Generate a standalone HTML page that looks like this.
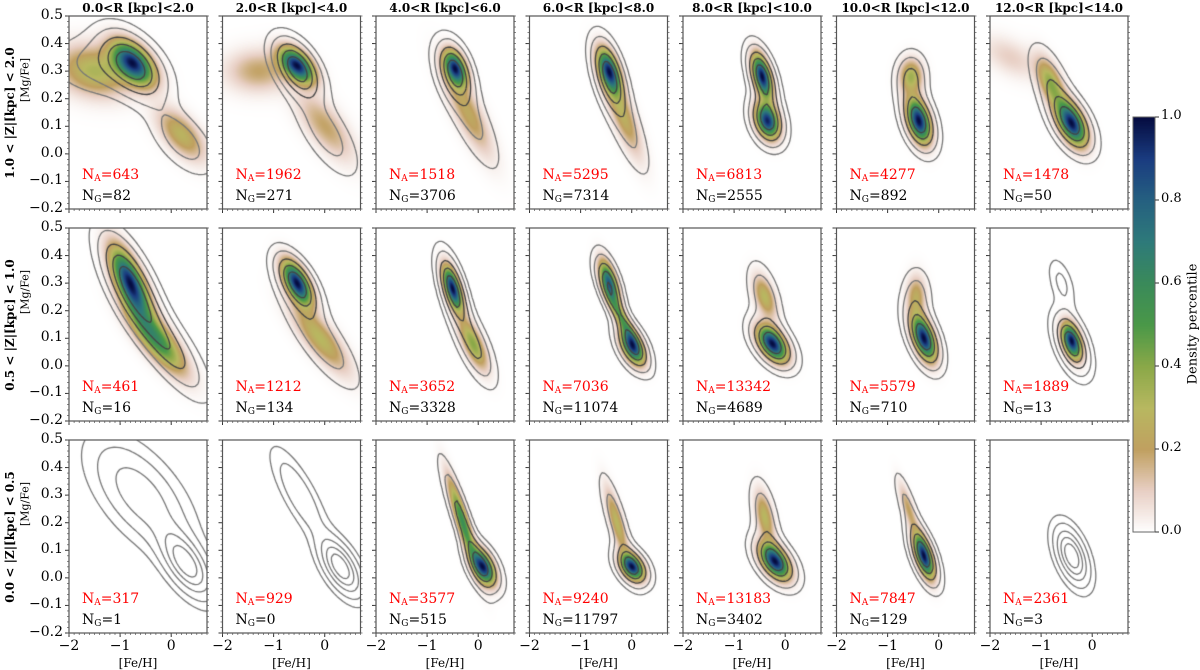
<!DOCTYPE html>
<html><head><meta charset="utf-8"><style>
body{margin:0;background:#fff;width:1200px;height:666px;overflow:hidden;position:relative;font-family:"DejaVu Serif","Liberation Serif",serif}
.abs{position:absolute}
.tl{font-size:14px;color:#000;white-space:nowrap}
.cbl{font-size:13px;color:#000;white-space:nowrap}
.title{font-size:12px;font-weight:bold;white-space:nowrap;text-align:center;width:160px}
.na{font-size:14px;color:#f00;white-space:nowrap}
.ng{font-size:14px;color:#000;white-space:nowrap}
sub{font-size:9px;vertical-align:-2px}
</style></head><body>
<div id="root"></div>
<script>
// ---- data ----
const colTitles=["0.0<R [kpc]<2.0","2.0<R [kpc]<4.0","4.0<R [kpc]<6.0","6.0<R [kpc]<8.0","8.0<R [kpc]<10.0","10.0<R [kpc]<12.0","12.0<R [kpc]<14.0"];
const rowTitles=["1.0 < |Z|[kpc] < 2.0","0.5 < |Z|[kpc] < 1.0","0.0 < |Z|[kpc] < 0.5"];
const nA=[[643,1962,1518,5295,6813,4277,1478],[461,1212,3652,7036,13342,5579,1889],[317,929,3577,9240,13183,7847,2361]];
const nG=[[82,271,3706,7314,2555,892,50],[16,134,3328,11074,4689,710,13],[1,0,515,11797,3402,129,3]];
const yTicks=[-0.2,-0.1,0.0,0.1,0.2,0.3,0.4,0.5];
const xTicks=[-2,-1,0];
const cbTicks=[0.0,0.2,0.4,0.6,0.8,1.0];
// density components: [feh, mgfe, sx, sy, rho, weight]
const dens=[
[[[-0.75,0.33,0.22,0.05,-0.5,1],[-1.5,0.3,0.4,0.06,-0.2,0.35],[0.2,0.07,0.25,0.06,-0.6,0.3]],
 [[-0.55,0.32,0.18,0.04,-0.5,1],[-1.3,0.3,0.35,0.05,0,0.2],[0,0.1,0.3,0.08,-0.7,0.2]],
 [[-0.45,0.31,0.12,0.04,-0.4,1],[-0.2,0.15,0.25,0.1,-0.8,0.25]],
 [[-0.45,0.3,0.12,0.05,-0.5,1],[-0.2,0.15,0.2,0.1,-0.8,0.3]],
 [[-0.45,0.28,0.1,0.05,-0.5,1],[-0.35,0.12,0.12,0.04,-0.3,0.95]],
 [[-0.4,0.12,0.12,0.05,-0.4,1],[-0.55,0.28,0.12,0.04,0,0.35]],
 [[-0.4,0.11,0.15,0.05,-0.5,1],[-0.8,0.25,0.15,0.06,-0.6,0.4],[-1.6,0.35,0.3,0.05,-0.5,0.1]]],
[[[-0.8,0.3,0.2,0.08,-0.7,1],[-0.3,0.1,0.3,0.08,-0.8,0.6]],
 [[-0.55,0.3,0.15,0.05,-0.6,1],[-0.1,0.1,0.3,0.08,-0.8,0.3]],
 [[-0.5,0.28,0.1,0.05,-0.6,1],[-0.1,0.08,0.15,0.06,-0.7,0.4]],
 [[-0.45,0.3,0.1,0.05,-0.6,0.9],[0,0.07,0.12,0.04,-0.5,1],[-0.2,0.17,0.15,0.06,-0.9,0.5]],
 [[-0.25,0.08,0.15,0.04,-0.5,1],[-0.4,0.25,0.12,0.05,-0.5,0.3]],
 [[-0.3,0.1,0.12,0.05,-0.5,1],[-0.45,0.25,0.1,0.05,0,0.25]],
 [[-0.4,0.09,0.1,0.04,-0.4,1]]],
[[],
 [],
 [[0.1,0.04,0.12,0.04,-0.5,1],[-0.3,0.2,0.15,0.1,-0.9,0.6]],
 [[0,0.04,0.12,0.03,-0.4,1],[-0.3,0.2,0.12,0.08,-0.8,0.3]],
 [[-0.2,0.06,0.15,0.04,-0.5,1],[-0.4,0.22,0.1,0.06,-0.5,0.3]],
 [[-0.3,0.08,0.1,0.05,-0.6,1],[-0.6,0.25,0.1,0.06,-0.8,0.2]],
 []]];
// contour components for gray contours
const cont=[
[[[-0.75,0.32,0.3,0.07,-0.5,1],[-1.4,0.32,0.45,0.06,-0.2,0.3],[0.2,0.05,0.3,0.07,-0.6,0.35]],
 [[-0.55,0.31,0.22,0.06,-0.5,1],[0,0.08,0.3,0.09,-0.7,0.3]],
 [[-0.45,0.3,0.16,0.06,-0.4,1],[-0.2,0.15,0.3,0.12,-0.8,0.3]],
 [[-0.45,0.29,0.15,0.07,-0.5,1],[-0.2,0.14,0.25,0.12,-0.8,0.35]],
 [[-0.45,0.28,0.14,0.06,-0.5,1],[-0.35,0.12,0.16,0.05,-0.3,0.95]],
 [[-0.4,0.12,0.16,0.06,-0.4,1],[-0.55,0.28,0.15,0.05,0,0.45]],
 [[-0.4,0.11,0.2,0.06,-0.5,1],[-0.8,0.25,0.2,0.08,-0.6,0.4]]],
[[[-0.8,0.3,0.28,0.1,-0.7,1],[-0.1,0.08,0.35,0.1,-0.8,0.6]],
 [[-0.55,0.3,0.2,0.06,-0.6,1],[-0.1,0.1,0.35,0.1,-0.8,0.35]],
 [[-0.5,0.28,0.14,0.07,-0.6,1],[-0.1,0.08,0.2,0.08,-0.7,0.5]],
 [[-0.45,0.3,0.13,0.06,-0.6,0.9],[0,0.07,0.16,0.05,-0.5,1],[-0.2,0.17,0.2,0.08,-0.9,0.5]],
 [[-0.25,0.08,0.2,0.05,-0.5,1],[-0.4,0.25,0.16,0.07,-0.5,0.35]],
 [[-0.3,0.1,0.16,0.06,-0.5,1],[-0.45,0.25,0.14,0.06,0,0.3]],
 [[-0.4,0.08,0.16,0.06,-0.5,1],[-0.6,0.3,0.12,0.05,-0.5,0.25]]],
[[[0.3,0.05,0.25,0.07,-0.6,1],[-0.6,0.3,0.45,0.11,-0.6,0.6]],
 [[0.3,0.04,0.2,0.06,-0.6,1],[-0.5,0.3,0.25,0.09,-0.8,0.4]],
 [[0.1,0.04,0.16,0.05,-0.5,1],[-0.3,0.2,0.2,0.12,-0.9,0.6]],
 [[0,0.04,0.16,0.04,-0.4,1],[-0.3,0.2,0.16,0.1,-0.8,0.35]],
 [[-0.2,0.06,0.2,0.05,-0.5,1],[-0.4,0.22,0.14,0.08,-0.5,0.35]],
 [[-0.3,0.08,0.14,0.06,-0.6,1],[-0.6,0.25,0.14,0.08,-0.8,0.25]],
 [[-0.4,0.08,0.16,0.06,-0.5,1]]]];
const cmapStops=[[0,[255,255,255]],[0.1,[232,207,196]],[0.2,[192,160,96]],[0.3,[184,184,96]],[0.4,[138,168,72]],[0.5,[74,152,72]],[0.6,[58,138,90]],[0.7,[46,122,122]],[0.8,[37,96,128]],[0.9,[26,60,128]],[1,[5,12,64]]];
const contourLevels=[0.08,0.2,0.4,0.6,0.8];
// ---- layout ----
const PL=69,PSTEP=153.5,PW=138,PT=[16,228,440],PH=193,XMIN=-2,XMAX=0.7,YMIN=-0.2,YMAX=0.5;
const DSX=1.2,CSX=1.3,CSY=1.1;
const root=document.getElementById('root');
function sx(v,i){return PL+i*PSTEP+(v-XMIN)/(XMAX-XMIN)*PW;}
function sy(v,r){return PT[r]+(YMAX-v)/(YMAX-YMIN)*PH;}
function esc(s){return s.replace(/&/g,'&amp;').replace(/</g,'&lt;').replace(/>/g,'&gt;');}
function cmap(t){t=Math.max(0,Math.min(1,t));for(let k=1;k<cmapStops.length;k++){if(t<=cmapStops[k][0]){const a=cmapStops[k-1],b=cmapStops[k];const f=(t-a[0])/(b[0]-a[0]);return a[1].map((c,j)=>Math.round(c+(b[1][j]-c)*f));}}return cmapStops[cmapStops.length-1][1];}
function field(comps,x,y,kx,ky){let s=0;for(const c of comps){const dx=(x-c[0])/(c[2]*kx),dy=(y-c[1])/(c[3]*ky),r=c[4];const q=(dx*dx-2*r*dx*dy+dy*dy)/(1-r*r);s+=c[5]*Math.exp(-0.5*q);}return s;}
function div(cls,name,x,y,html){const d=document.createElement('div');d.className='abs '+cls;d.style.left=x+'px';d.style.top=y+'px';d.innerHTML=html;
root.appendChild(d);return d;}
const svgNS='http://www.w3.org/2000/svg';
const svg=document.createElementNS(svgNS,'svg');svg.setAttribute('width',1200);svg.setAttribute('height',666);svg.style.position='absolute';svg.style.left='0';svg.style.top='0';


function line(x1,y1,x2,y2,st,w,name){const l=document.createElementNS(svgNS,'line');l.setAttribute('x1',x1);l.setAttribute('y1',y1);l.setAttribute('x2',x2);l.setAttribute('y2',y2);l.setAttribute('stroke',st);l.setAttribute('stroke-width',w);


svg.appendChild(l);}
for(let r=0;r<3;r++)for(let i=0;i<7;i++){
  const x0=PL+i*PSTEP,y0=PT[r];
  const cv=document.createElement('canvas');cv.width=PW;cv.height=PH;cv.style.position='absolute';cv.style.left=x0+'px';cv.style.top=y0+'px';
  
  
  root.appendChild(cv);const ctx=cv.getContext('2d');
  const dc=dens[r][i];
  if(dc.length){const img=ctx.createImageData(PW,PH);let mx=0;const F=new Float32Array(PW*PH);
    for(let py=0;py<PH;py++)for(let px=0;px<PW;px++){const x=XMIN+(px+0.5)/PW*(XMAX-XMIN),y=YMAX-(py+0.5)/PH*(YMAX-YMIN);const v=field(dc,x,y,DSX,1);F[py*PW+px]=v;if(v>mx)mx=v;}
    for(let k=0;k<PW*PH;k++){const c=cmap(F[k]/mx);img.data[4*k]=c[0];img.data[4*k+1]=c[1];img.data[4*k+2]=c[2];img.data[4*k+3]=255;}
    ctx.putImageData(img,0,0);}
  const cc=cont[r][i];const G=3,nx=Math.ceil(PW/G)+1,ny=Math.ceil(PH/G)+1;const V=[];let cm=0;
  for(let j=0;j<ny;j++){V.push([]);for(let k=0;k<nx;k++){const x=XMIN+k*G/PW*(XMAX-XMIN),y=YMAX-j*G/PH*(YMAX-YMIN);const v=field(cc,x,y,CSX,CSY);V[j].push(v);if(v>cm)cm=v;}}
  contourLevels.forEach((L,li)=>{const lv=L*cm;
    ctx.strokeStyle=(dc.length&&li>=2)?'#444':'#777';ctx.lineWidth=1.3;ctx.beginPath();
    for(let j=0;j<ny-1;j++)for(let k=0;k<nx-1;k++){const a=V[j][k],b=V[j][k+1],c=V[j+1][k+1],d=V[j+1][k];
      const pts=[];const e=(p,q,x1,y1,x2,y2)=>{if((p>=lv)!==(q>=lv)){const t=(lv-p)/(q-p);pts.push([x1+(x2-x1)*t,y1+(y2-y1)*t]);}};
      const X=k*G,Y=j*G;e(a,b,X,Y,X+G,Y);e(b,c,X+G,Y,X+G,Y+G);e(d,c,X,Y+G,X+G,Y+G);e(a,d,X,Y,X,Y+G);
      for(let m=0;m+1<pts.length;m+=2){ctx.moveTo(pts[m][0],pts[m][1]);ctx.lineTo(pts[m+1][0],pts[m+1][1]);}}
    ctx.stroke();});
  const rc=document.createElementNS(svgNS,'rect');rc.setAttribute('x',x0);rc.setAttribute('y',y0);rc.setAttribute('width',PW);rc.setAttribute('height',PH);rc.setAttribute('fill','none');rc.setAttribute('stroke','#555');rc.setAttribute('stroke-width','1.2');
  
  
  svg.appendChild(rc);
  for(const t of yTicks){const y=sy(t,r);line(x0-4,y,x0,y,'#333',1,'y-tick');}
  for(let t=-0.2;t<=0.5001;t+=0.02){const y=sy(t,r);line(x0-2,y,x0,y,'#555',0.7,'y-minor-tick');line(x0+PW,y,x0+PW+2,y,'#555',0.7,'y-minor-tick-right');}
  for(const t of xTicks){const x=sx(t,i);line(x,y0+PH,x,y0+PH+4,'#333',1,'x-tick');}
  for(let t=-2;t<=0.7001;t+=0.1){const x=sx(t,i);line(x,y0+PH,x,y0+PH+2,'#555',0.7,'x-minor-tick');}
  if(i===0){for(const t of yTicks){const s=(t<0?'\u2212':'')+Math.abs(t).toFixed(1);const d=div('tl','y-tick-label',x0-6,sy(t,r)-9,s);d.style.transform='translateX(-100%)';}}
  if(r===2){for(const t of xTicks){const s=(t<0?'\u2212':'')+Math.abs(t);const d=div('tl','x-tick-label',sx(t,i),y0+PH+5,s);d.style.transform='translateX(-50%)';}
    const d=div('tl','x-axis-title',x0+PW/2,y0+PH+23,'[Fe/H]');d.style.transform='translateX(-50%)';d.style.fontSize='12px';}
  div('na','n-apogee-label',x0+13,sy(-0.08,r)-9,'N<sub>A</sub>='+nA[r][i]);
  div('ng','n-gaia-label',x0+13,sy(-0.155,r)-9,'N<sub>G</sub>='+nG[r][i]);
}
for(let i=0;i<7;i++){div('title','column-title',PL+i*PSTEP+PW/2-80,1,esc(colTitles[i]));}
for(let r=0;r<3;r++){const cy=PT[r]+PH/2;
  const d=div('','row-title',9,cy,esc(rowTitles[r]));d.style.cssText+='font-size:12px;font-weight:bold;white-space:nowrap;transform:translate(-50%,-50%) rotate(-90deg);left:10px;';
  const e=div('','y-axis-title',23,cy-28,'[Mg/Fe]');e.style.cssText+='font-size:11px;white-space:nowrap;transform:translate(-50%,-50%) rotate(-90deg);left:25px;top:'+(cy-33)+'px';}
const CBX=1133,CBW=22,CBT=117,CBB=532;
const cb=document.createElement('canvas');cb.width=CBW;cb.height=CBB-CBT;cb.style.cssText='position:absolute;left:'+CBX+'px;top:'+CBT+'px';


root.appendChild(cb);const cx=cb.getContext('2d');
for(let y=0;y<CBB-CBT;y++){const c=cmap(1-y/(CBB-CBT));cx.fillStyle='rgb('+c+')';cx.fillRect(0,y,CBW,1);}
const cr=document.createElementNS(svgNS,'rect');cr.setAttribute('x',CBX);cr.setAttribute('y',CBT);cr.setAttribute('width',CBW);cr.setAttribute('height',CBB-CBT);cr.setAttribute('fill','none');cr.setAttribute('stroke','#666');


svg.appendChild(cr);
for(const t of cbTicks){const y=CBB-t*(CBB-CBT);line(CBX+CBW,y,CBX+CBW+4,y,'#333',1,'colorbar-tick');div('cbl','colorbar-tick-label',CBX+CBW+6,y-9,t.toFixed(1));}
const cl=div('','colorbar-title',1193,324,'Density percentile');cl.style.cssText+='font-size:13px;white-space:nowrap;transform:translate(-50%,-50%) rotate(-90deg);';
root.appendChild(svg);
</script>
</body></html>
